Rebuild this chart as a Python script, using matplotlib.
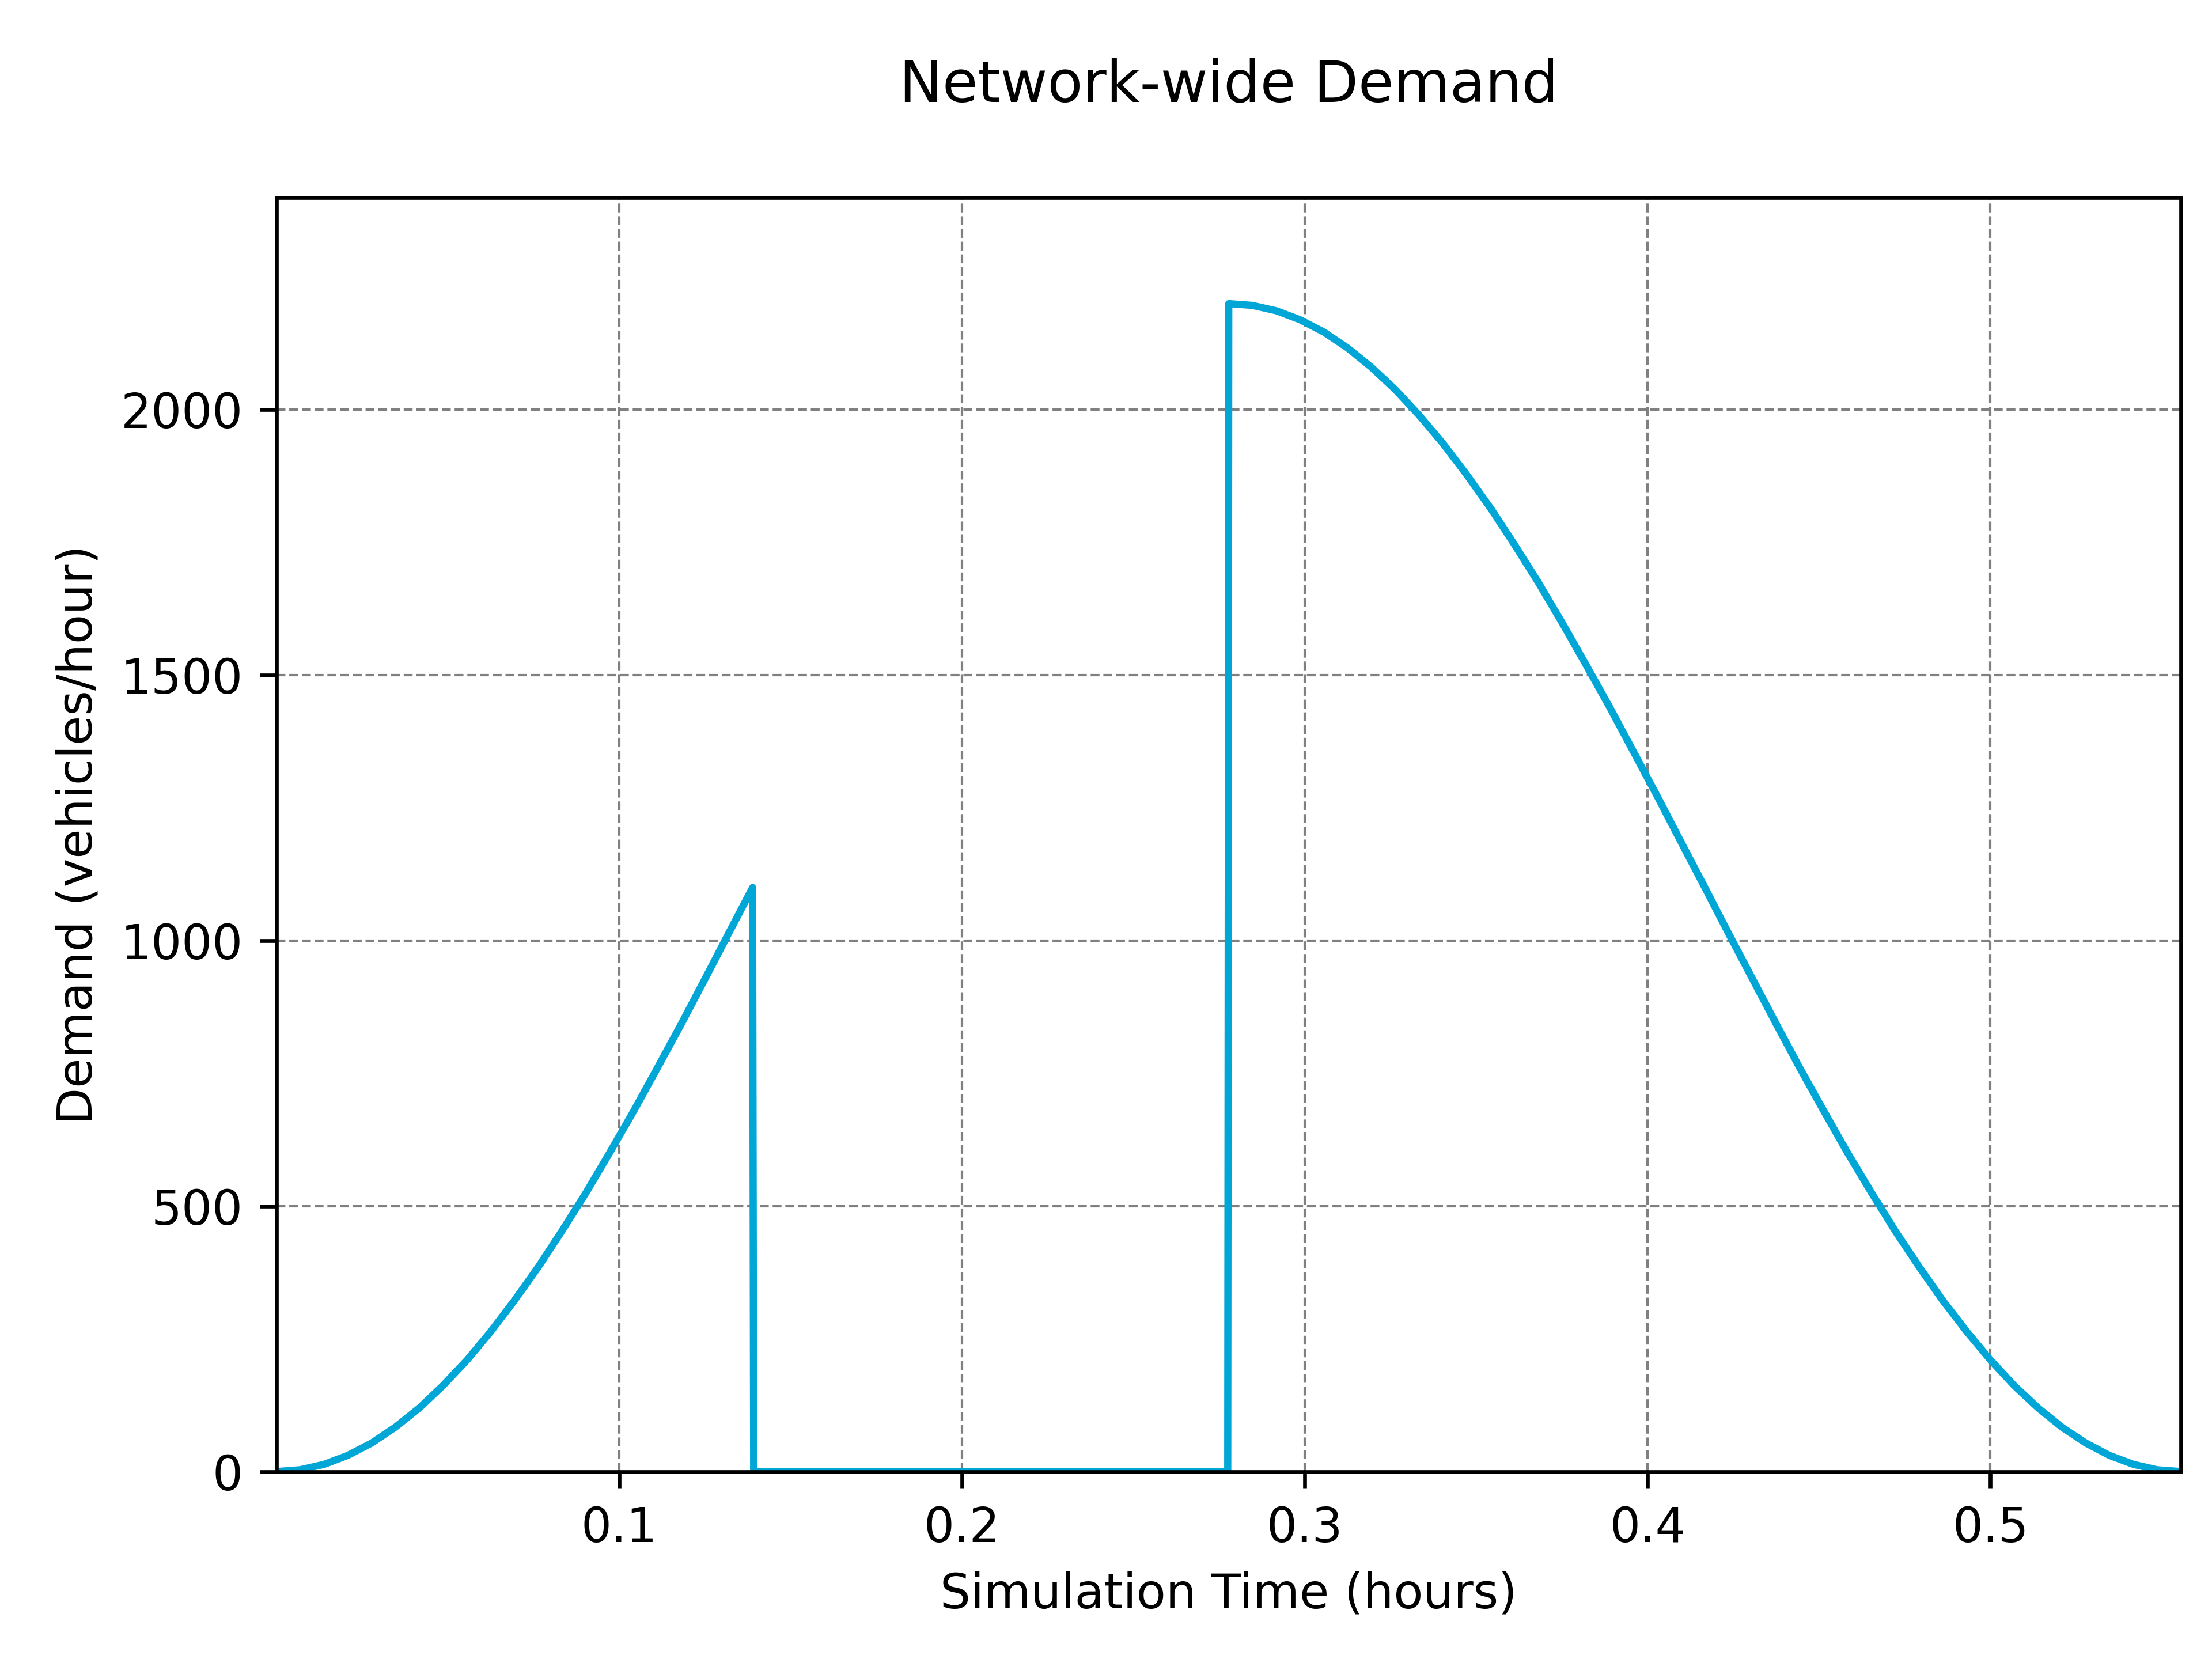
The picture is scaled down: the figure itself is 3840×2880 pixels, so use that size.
import numpy as np
import matplotlib
matplotlib.use("Agg")
import matplotlib.pyplot as plt

time_ramp = [0.0, 0.0069, 0.0139, 0.0208, 0.0278, 0.0347, 0.0417, 0.0486,
             0.0556, 0.0625, 0.0694, 0.0764, 0.0833, 0.0903, 0.0972, 0.1042,
             0.1111, 0.1181, 0.1250, 0.1319, 0.1389]
demand_ramp = [0, 3.39, 13.54, 30.39, 53.84, 83.73, 119.89, 162.10,
               210.08, 263.55, 322.18, 385.61, 453.44, 525.25, 600.61, 679.05,
               760.08, 843.21, 927.92, 1013.70, 1100]

# no demand between the two pulses
time_gap = [0.1392, 0.2775]
demand_gap = [0, 0]

time_peak = [0.2778, 0.2847, 0.2917, 0.2986, 0.3056, 0.3125, 0.3194, 0.3264,
             0.3333, 0.3403, 0.3472, 0.3542, 0.3611, 0.3681, 0.3750, 0.3819,
             0.3889, 0.3958, 0.4028, 0.4097, 0.4167, 0.4236, 0.4306, 0.4375,
             0.4444, 0.4514, 0.4583, 0.4653, 0.4722, 0.4792, 0.4861, 0.4931,
             0.5000, 0.5069, 0.5139, 0.5208, 0.5278, 0.5347, 0.5417, 0.5486,
             0.5556]
demand_peak = [2200, 2196.61, 2186.46, 2169.61, 2146.16, 2116.27, 2080.11, 2037.90,
               1989.92, 1936.45, 1877.82, 1814.39, 1746.56, 1674.75, 1599.39, 1520.95,
               1439.92, 1356.79, 1272.08, 1186.30, 1100, 1013.70, 927.92, 843.21,
               760.08, 679.05, 600.61, 525.25, 453.44, 385.61, 322.18, 263.55,
               210.08, 162.10, 119.89, 83.73, 53.84, 30.39, 13.54, 3.39,
               0]

t = np.array(time_ramp + time_gap + time_peak)
demand = np.array(demand_ramp + demand_gap + demand_peak)

fig, ax = plt.subplots(figsize=(6.4, 4.8), dpi=600)
fig.subplots_adjust(left=0.125, right=0.986, bottom=0.113, top=0.881)

ax.plot(t, demand, color='#00a6d6', linewidth=1.5)

ax.set_xlim(0, 0.5556)
ax.set_ylim(0, 2400)
ax.set_xticks([0.1, 0.2, 0.3, 0.4, 0.5])
ax.set_yticks([0, 500, 1000, 1500, 2000])
ax.grid(True, linestyle='--', linewidth=0.5, color='gray')

ax.set_title('Network-wide Demand', fontsize=12, pad=20)
ax.set_xlabel('Simulation Time (hours)')
ax.set_ylabel('Demand (vehicles/hour)')

fig.savefig('out.png', dpi=600)
